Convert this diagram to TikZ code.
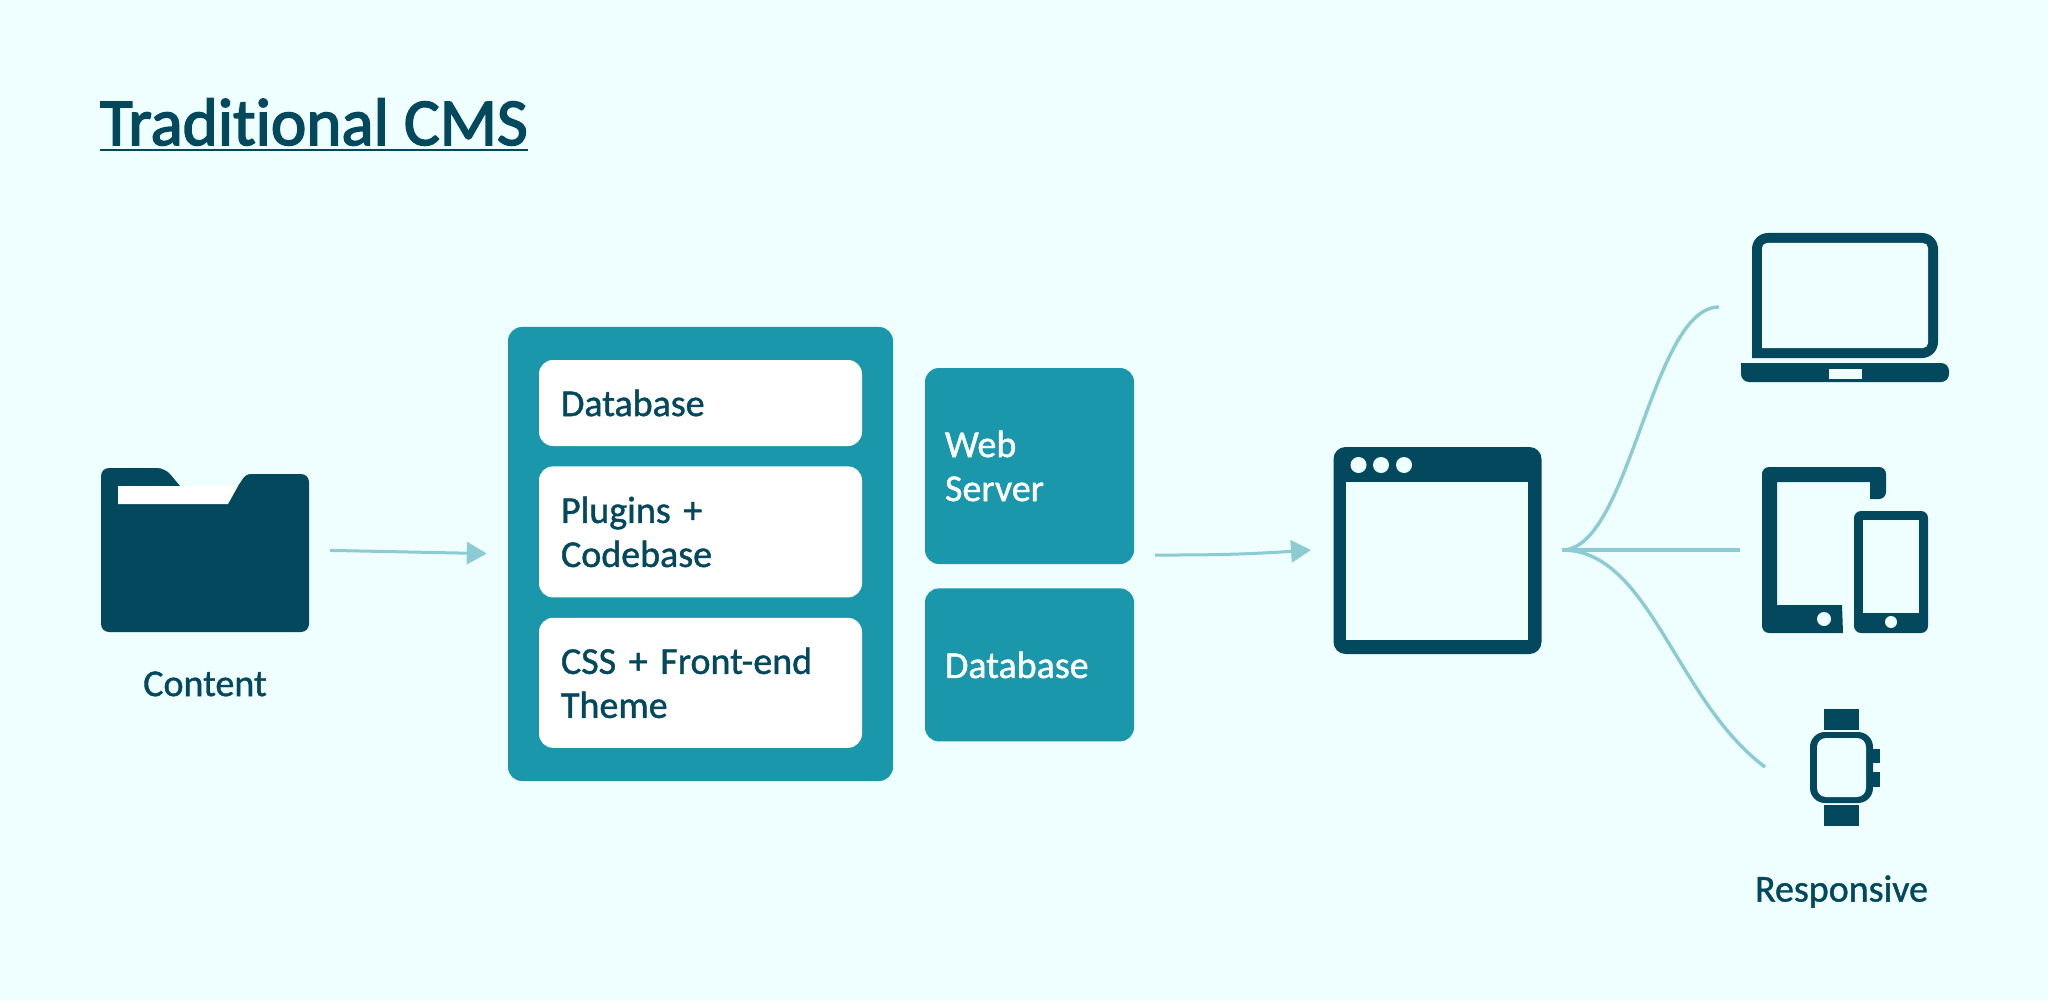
\documentclass[tikz,border=0pt]{standalone}
\usepackage{fontspec}
\setmainfont[Ligatures=NoCommon]{Carlito}
\newfontfamily\labelfont[FakeBold=1.1,Ligatures=NoCommon]{Carlito}
\newfontfamily\titlefont[FakeBold=2.4,Ligatures=NoCommon]{Carlito}
\usetikzlibrary{positioning,arrows.meta,shapes.geometric}

\begin{document}
\begin{tikzpicture}[x=1pt,y=-1pt]

       \definecolor{paper}{HTML}{EFFFFF}
       \definecolor{ink}{HTML}{03485C}
       \definecolor{teal}{HTML}{1A97AB}
       \definecolor{wire}{HTML}{8CCBD1}

       \tikzstyle{arrow} = [wire,line width=3pt,-{Triangle[length=20pt,width=22pt]}]
       \tikzstyle{fan} = [wire,line width=3.4pt]
       \tikzset{stackbox/.style = {rectangle, fill=teal, rounded corners=14pt, inner sep=0pt}, }
       \tikzset{layer/.style = {rectangle, fill=white, rounded corners=14pt, inner xsep=22pt, inner ysep=0pt, minimum width=323pt, text width=279pt, align=left, text=ink, font=\labelfont\fontsize{38}{44}\selectfont}, }
       \tikzset{server/.style = {rectangle, fill=teal, rounded corners=14pt, inner xsep=20pt, inner ysep=0pt, minimum width=209pt, text width=169pt, align=left, text=white, font=\labelfont\fontsize{38}{44}\selectfont}, }
       \tikzset{caption/.style = {text=ink, inner sep=0pt, font=\labelfont\fontsize{38}{44}\selectfont}, }
       \tikzset{device/.style = {rectangle, fill=ink, inner sep=0pt}, }
       \tikzset{pane/.style = {rectangle, fill=paper, inner sep=0pt}, }
       \tikzset{dot/.style = {circle, fill=paper, inner sep=0pt}, }

       \useasboundingbox[fill=paper] (0,0) rectangle (2048,1000);

       \node[text=ink, inner xsep=0pt, inner ysep=4pt, font=\titlefont\fontsize{67}{70}\selectfont] (title) at (314,122) {Traditional CMS};
       \draw[ink, line width=1.6pt] (title.south west) -- (title.south east);

       % folder
       \node[minimum width=208pt, minimum height=164pt, inner sep=0pt] (folder) at (205,550) {};
       \fill[ink, rounded corners=8pt] (101,632) -- (101,468) -- (165,468) [sharp corners] -- (180,486) -- (238,486) [rounded corners=5pt] -- (246,474) [rounded corners=8pt] -- (309,474) -- (309,632) -- cycle;
       \fill[white] (118,486) -- (238,486) -- (228,504) -- (118,504) -- cycle;
       \node[caption, below=39pt of folder] (content) {Content};

       % stack
       \node[stackbox, minimum width=385pt, minimum height=454pt] (stack) at (700.5,554) {};
       \node[layer, minimum height=86pt] (database) at (700.5,403) {Database};
       \node[layer, minimum height=131pt, below=20pt of database] (plugins) {Plugins +\\Codebase};
       \node[layer, minimum height=130pt, below=20pt of plugins] (theme) {CSS + Front-end\\Theme};

       \node[server, minimum height=196pt] (webserver) at (1029.5,466) {Web\\Server};
       \node[server, minimum height=153pt, below=24pt of webserver] (dbserver) {Database};

       % browser
       \node[device, rounded corners=12pt, minimum width=208pt, minimum height=207pt] (browser) at (1437.5,550.5) {};
       \node[pane, minimum width=182pt, minimum height=158pt] (viewport) at (1437,561) {};
       \foreach \x in {1358.5,1381,1404}
         \node[dot, minimum size=16pt] (dot\x) at (\x,465) {};

       % laptop
       \node[minimum width=208pt, minimum height=149pt, inner sep=0pt] (laptop) at (1845,307.5) {};
       \fill[ink, rounded corners=16pt] (1752,358) -- (1752,233) -- (1938,233) -- (1938,358) [sharp corners] -- cycle;
       \fill[paper, rounded corners=5pt] (1762,348) -- (1762,243) -- (1928,243) -- (1928,348) [sharp corners] -- cycle;
       \fill[ink, rounded corners=8pt] (1741,363) -- (1741,382) -- (1949,382) -- (1949,363) [sharp corners] -- cycle;
       \fill[paper] (1829,369) rectangle (1862,379);

       % tablet and phone
       \node[minimum width=166pt, minimum height=166pt, inner sep=0pt] (tablet) at (1845,550) {};
       \fill[ink, rounded corners=7pt] (1843,633) -- (1762,633) -- (1762,467) -- (1886,467) -- (1886,499) [sharp corners] -- (1870,499) -- (1870,482) -- (1777,482) -- (1777,605) -- (1842,605) -- cycle;
       \node[dot, minimum size=14pt] (homekey) at (1824,619) {};
       \node[device, rounded corners=7pt, minimum width=74pt, minimum height=122pt] (phone) at (1891,572) {};
       \node[pane, minimum width=56pt, minimum height=93pt] (phonepane) at (1891,566.5) {};
       \node[dot, minimum size=12pt] (phonekey) at (1891,622) {};

       % watch
       \node[device, minimum width=35pt, minimum height=21pt] (topstrap) at (1841.5,719.5) {};
       \node[device, minimum width=35pt, minimum height=21pt] (lowstrap) at (1841.5,815.5) {};
       \node[device, minimum width=7pt, minimum height=14pt] (upperkey) at (1876.5,756) {};
       \node[device, minimum width=7pt, minimum height=15pt] (lowerkey) at (1876.5,779.5) {};
       \node[device, rounded corners=15pt, minimum width=63pt, minimum height=71pt] (watch) at (1841.5,767.5) {};
       \node[pane, rounded corners=9pt, minimum width=49pt, minimum height=59pt] (dial) at (1841.5,767.5) {};
       \node[caption, below=72pt of watch] (responsive) {Responsive};

       \coordinate (serverout) at (1155,555);
       \coordinate (browserin) at (1311,550);
       \coordinate (fanhub) at (1562,550);
       \coordinate (laptopin) at (1719,307);
       \coordinate (tabletin) at (1740,550);
       \coordinate (watchin) at (1765,767);

       \draw[arrow, shorten <=21pt, shorten >=21pt] (folder.east) -- (stack.west);
       \draw[arrow] (serverout) to[bend right=2] (browserin);
       \draw[fan] (fanhub) .. controls (1630,550) and (1651,307) .. (laptopin);
       \draw[fan] (fanhub) -- (tabletin);
       \draw[fan] (fanhub) .. controls (1650,550) and (1675,700) .. (watchin);

\end{tikzpicture}
\end{document}
